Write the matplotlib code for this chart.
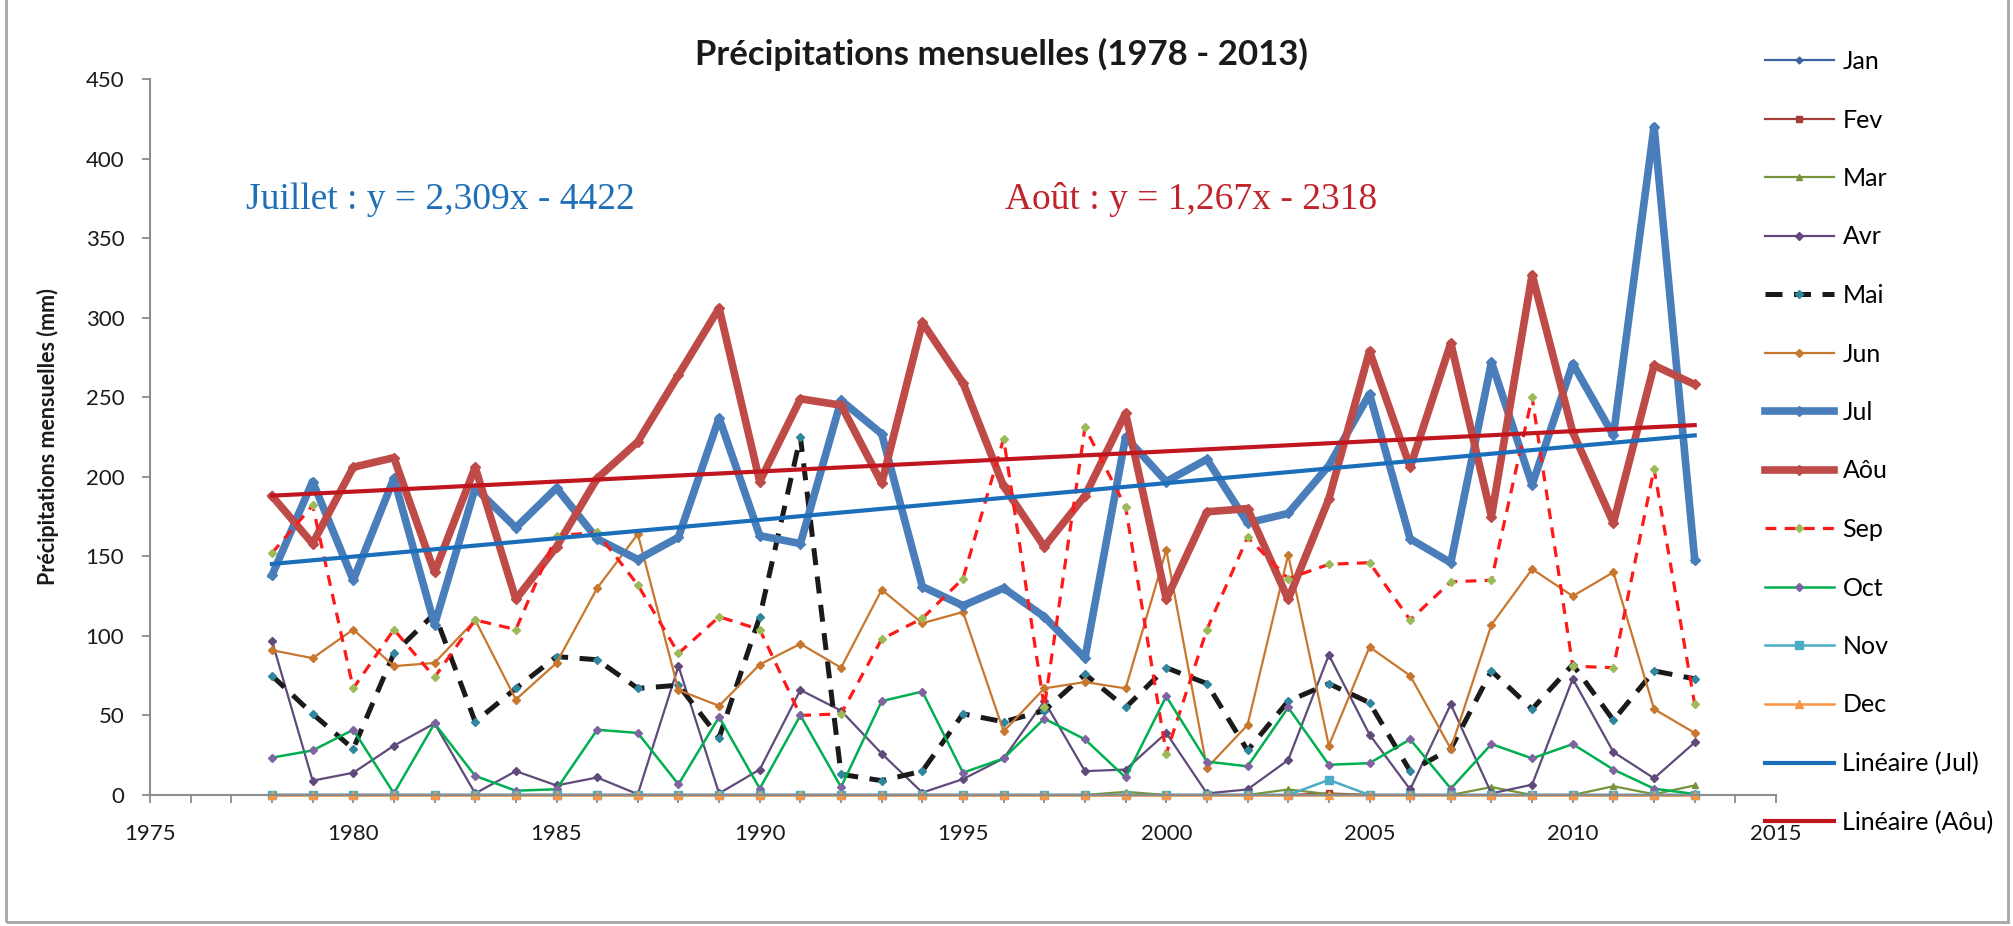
import numpy as np
import matplotlib
matplotlib.use('Agg')
import matplotlib.pyplot as plt
from matplotlib.patches import Rectangle

plt.rcParams['font.family'] = ['Lato', 'DejaVu Sans']

# precipitation per month and year (mm)
years = list(range(1978, 2014))

jan = [0, 0, 0, 0, 0, 0, 0, 0, 0, 0, 0, 0, 0, 0, 0, 0, 0, 0,
       0, 0, 0, 0, 0, 0, 0, 0, 0, 0, 0, 0, 0, 0, 0, 0, 0, 0]
fev = [0, 0, 0, 0, 0, 0, 0, 0, 0, 0, 0, 0, 0, 0, 0, 0, 0, 0,
       0, 0, 0, 0, 0, 0, 0, 0, 1, 0, 0, 0, 0, 0, 0, 0, 0, 0]
mar = [0, 0, 0, 0, 0, 0, 0, 0, 0, 0, 0, 0, 0, 0, 0, 0, 0, 0,
       0, 0, 0, 2, 0, 0, 0, 3.5, 0.5, 0, 0, 0, 5, 0, 0, 5.5, 0.5, 6]
avr = [97, 9, 14, 31, 45, 1, 15, 6, 11, 0.5, 81, 1, 16, 66, 53, 26, 1.5, 10,
       23, 59, 15, 16, 39, 1, 3.5, 22, 88, 38, 3.5, 57, 1, 6.5, 73, 27, 10.5, 33]
mai = [75, 51, 29, 89, 114, 46, 67, 87, 85, 67, 69, 36, 112, 225, 13, 9, 15, 51,
       46, 53, 76, 55, 80, 70, 28, 59, 70, 58, 15, 29, 78, 54, 82, 47, 78, 73]
jun = [91, 86, 104, 81, 83, 110, 60, 83, 130, 164, 66, 56, 82, 95, 80, 129, 108, 115,
       40, 67, 71, 67, 154, 17, 44, 151, 31, 93, 75, 29, 107, 142, 125, 140, 54, 39]
jul = [138, 197, 135, 199, 107, 193, 168, 193, 161, 148, 162, 237, 163, 158, 248, 227, 131, 119,
       130, 112, 86, 225, 197, 211, 171, 177, 207, 252, 161, 146, 272, 195, 271, 226, 420, 148]
aou = [188, 158, 206, 212, 140, 206, 123, 156, 199, 222, 264, 306, 197, 249, 245, 196, 297, 259,
       194, 156, 188, 240, 123, 178, 180, 123, 186, 279, 206, 284, 175, 327, 228, 171, 270, 258]
sep = [152, 182, 67, 104, 74, 110, 104, 163, 165, 132, 89, 112, 104, 50, 51, 98, 111, 136,
       224, 55, 231, 181, 26, 104, 162, 136, 145, 146, 110, 134, 135, 250, 81, 80, 205, 57]
octo = [23.5, 28, 41, 1, 45, 12, 2.7, 3.6, 41, 39, 6.7, 49, 4, 50, 5, 59, 65, 14,
        23, 48, 35, 11, 62, 21, 18, 55, 19, 20, 35, 4, 32, 23, 32, 16, 4, 0.6]
nov = [0, 0, 0, 0, 0, 0, 0, 0, 0, 0, 0, 0, 0, 0, 0, 0, 0, 0,
       0, 0, 0, 0, 0, 0, 0, 0, 9.5, 0, 0, 0, 0, 0, 0, 0, 0, 0]
dec = [0, 0, 0, 0, 0, 0, 0, 0, 0, 0, 0, 0, 0, 0, 0, 0, 0, 0,
       0, 0, 0, 0, 0, 0, 0, 0, 0, 0, 0, 0, 0, 0, 0, 0, 0, 0]

# linear trends as printed on the chart
trend_names = ['Jul', 'Aôu']
trend_slope = [2.309, 1.267]
trend_icpt = [-4422, -2318]

# label, values, line colour, width, dashes, marker, marker colour, marker size
styles = [
    ('Jan', jan, '#3A63A0', 1.6, None, 'D', '#3A63A0', 3.5),
    ('Fev', fev, '#A43E3A', 1.6, None, 's', '#A43E3A', 5),
    ('Mar', mar, '#77933C', 1.6, None, '^', '#77933C', 4.5),
    ('Avr', avr, '#604A7B', 1.6, None, 'D', '#604A7B', 4),
    ('Mai', mai, '#1A1A1A', 3.6, (3.4, 2.3), 'D', '#31859C', 4),
    ('Jun', jun, '#C8772E', 1.6, None, 'D', '#C8772E', 4),
    ('Jul', jul, '#4A7EBB', 5.5, None, 'D', '#4A7EBB', 5),
    ('Aôu', aou, '#BE4B48', 5.5, None, 'D', '#BE4B48', 5),
    ('Sep', sep, '#FF1A1A', 2.3, (3.4, 2.6), 'D', '#9BBB59', 4),
    ('Oct', octo, '#00B050', 1.8, None, 'D', '#8064A2', 4),
    ('Nov', nov, '#4BACC6', 1.8, None, 's', '#4BACC6', 6),
    ('Dec', dec, '#F79646', 1.8, None, '^', '#F79646', 6),
]
trend_colors = ['#1B6EBA', '#C0161F']

fig = plt.figure(figsize=(20.13, 9.26), dpi=100)
ax = fig.add_axes([150 / 2013, 131 / 926, 1626 / 2013, 716 / 926])

handles = []
x = np.array(years)
for label, vals, col, lw, dash, mk, mcol, ms in styles:
    line, = ax.plot(x, vals, color=col, lw=lw, marker=mk, markersize=ms,
                    markerfacecolor=mcol, markeredgecolor=mcol, label=label,
                    solid_joinstyle='round', dash_joinstyle='round', clip_on=False)
    if dash is not None:
        line.set_dashes(dash)
    handles.append(line)

for name, a, b, col in zip(trend_names, trend_slope, trend_icpt, trend_colors):
    line, = ax.plot(x, a * x + b, color=col, lw=3, label='Linéaire (%s)' % name)
    handles.append(line)

ax.set_xlim(1975, 2015)
ax.set_ylim(0, 450)
ax.set_xticks(range(1975, 2016, 5))
ax.set_xticks(range(1975, 2016), minor=True)
ax.set_yticks(range(0, 451, 50))
ax.tick_params(axis='x', which='both', direction='out', length=5.5, width=1.3,
               colors='#8C8C8C', labelcolor='#1A1A1A', labelsize=16, pad=15.5)
ax.tick_params(axis='y', direction='out', length=5.5, width=1.3,
               colors='#8C8C8C', labelcolor='#1A1A1A', labelsize=16, pad=13)
for s in ['top', 'right']:
    ax.spines[s].set_visible(False)
for s in ['left', 'bottom']:
    ax.spines[s].set_color('#8C8C8C')
    ax.spines[s].set_linewidth(1.5)

ax.set_ylabel('Précipitations mensuelles (mm)', fontsize=15.5, fontweight='bold', color='#1A1A1A')
ax.yaxis.set_label_coords(-91 / 1626, 0.5)

fig.text(1001 / 2013, 1 - 54 / 926, 'Précipitations mensuelles (1978 - 2013)',
         ha='center', va='center', fontsize=25, fontweight='bold', color='#1A1A1A')

eq_jul = 'Juillet : y = %sx - %d' % (('%.3f' % trend_slope[0]).replace('.', ','), -trend_icpt[0])
eq_aou = 'Août : y = %sx - %d' % (('%.3f' % trend_slope[1]).replace('.', ','), -trend_icpt[1])
ax.text(0.059, 0.832, eq_jul, transform=ax.transAxes, ha='left', va='center',
        fontsize=27, family='Liberation Serif', color='#1F6FB8')
ax.text(0.526, 0.832, eq_aou, transform=ax.transAxes, ha='left', va='center',
        fontsize=27, family='Liberation Serif', color='#C0252B')

fig.legend(handles, [h.get_label() for h in handles], loc='upper left',
           bbox_to_anchor=(1765 / 2013, 1 - 50 / 926), frameon=False, fontsize=18,
           handlelength=2.75, handletextpad=0.35, labelspacing=1.42,
           borderpad=0, borderaxespad=0)

fig.patches.append(Rectangle((6 / 2013, 4 / 926), 2002 / 2013, 1.0, transform=fig.transFigure,
                             fill=False, edgecolor='#A6A6A6', lw=2))

fig.savefig('out.png', dpi=100)
